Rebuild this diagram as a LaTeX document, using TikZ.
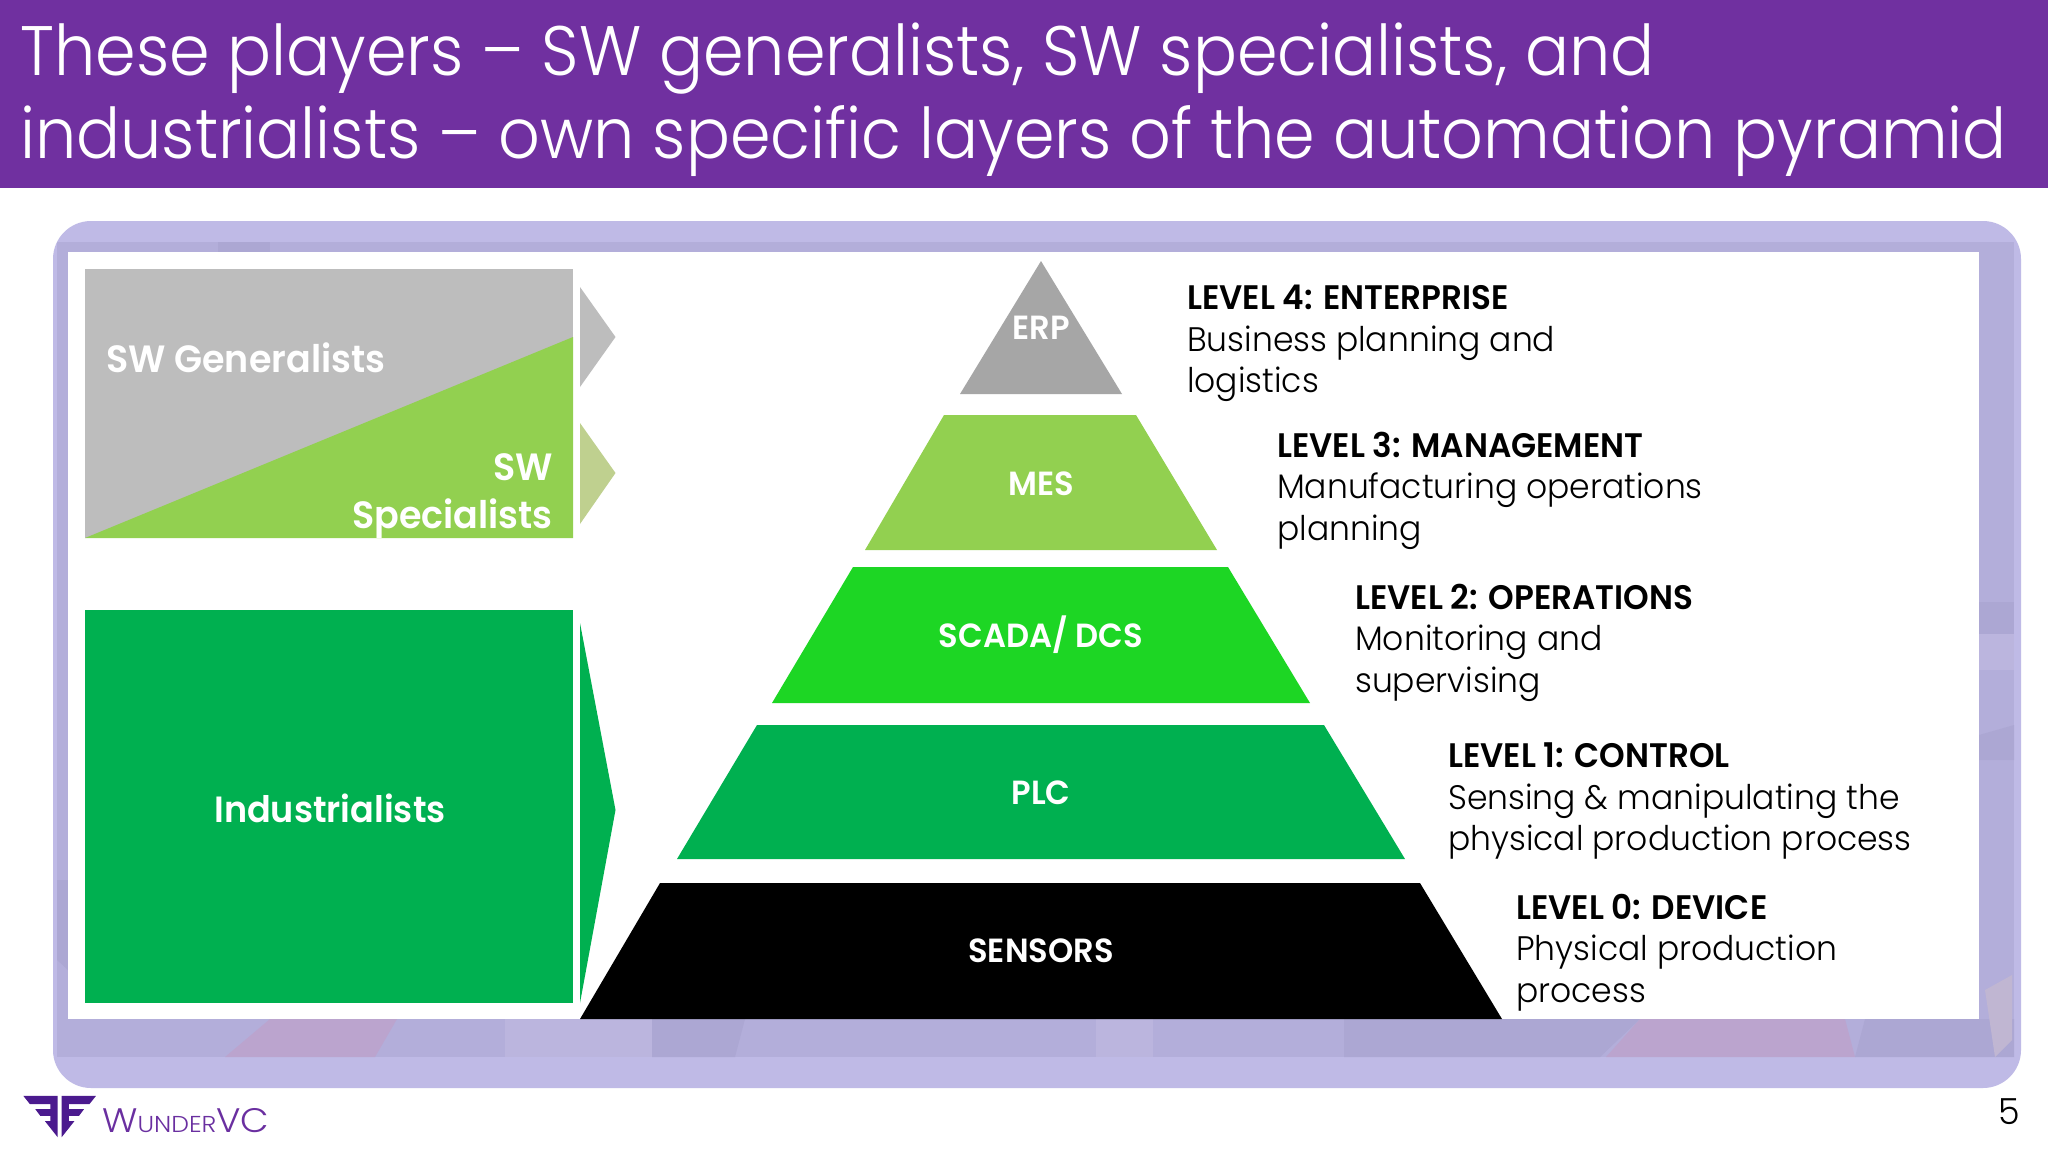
\documentclass[tikz,border=0pt]{standalone}
\usepackage{fontspec}
\setmainfont{Poppins Light}[BoldFont={Poppins SemiBold},UprightFeatures={FakeStretch=0.97},BoldFeatures={FakeStretch=0.96}]
\newfontfamily\titlefont{Poppins Light}[FakeStretch=0.932]
\newfontfamily\logofont{Poppins Light}[FakeStretch=1.09]
\definecolor{hdr}{HTML}{7030A0}
\definecolor{panel}{HTML}{BFBAE6}
\definecolor{strip}{HTML}{B3AEDA}
\definecolor{stripdark}{HTML}{ACA7D3}
\definecolor{striplight}{HTML}{BBB5DE}
\definecolor{strippink}{HTML}{BBA4CE}
\definecolor{stripbeige}{HTML}{C0B6D2}
\definecolor{swgray}{HTML}{BDBDBD}
\definecolor{erpgray}{HTML}{A6A6A6}
\definecolor{lime}{HTML}{92D050}
\definecolor{limepale}{HTML}{BFD08F}
\definecolor{bright}{HTML}{1DD624}
\definecolor{indgreen}{HTML}{00B050}
\definecolor{logopurple}{HTML}{4B1A8E}
\definecolor{logotext}{HTML}{6A2FA0}
\tikzset{
  layer/.style={fill=#1,draw=none},
  title/.style={anchor=base west,inner sep=0pt,text=white,font=\titlefont\fontsize{70}{80}\selectfont},
  pyr/.style={anchor=base,inner sep=0pt,text=white,font=\fontsize{33.5}{38}\selectfont\bfseries},
  side/.style={inner sep=0pt,text=white,font=\fontsize{38}{48}\selectfont\bfseries},
  desc/.style={anchor=north west,inner sep=0pt,align=left,text=black,font=\fontsize{34}{41.4}\selectfont},
}
\begin{document}
\begin{tikzpicture}[x=1pt,y=-1pt]
\useasboundingbox (0,0) rectangle (2048,1152);
\fill[white] (0,0) rectangle (2048,1152);
% header
\fill[hdr] (0,0) rectangle (2048,188);
\node[title] (t1) at (20,75) {These players – SW generalists, SW specialists, and};
\node[title] (t2) at (20,158) {industrialists – own specific layers of the automation pyramid};
% panel
\fill[panel,rounded corners=38pt] (53,221) rectangle (2021,1088);
\fill[strip] (57,242) rectangle (2014,1057);
% photo traces in the strip
\fill[strippink] (270,1019) -- (397,1019) -- (375,1057) -- (225,1057) -- cycle;
\fill[striplight] (505,1019) -- (652,1019) -- (652,1057) -- (505,1057) -- cycle;
\fill[stripdark] (652,1019) -- (745,1019) -- (735,1057) -- (652,1057) -- cycle;
\fill[striplight] (1096,1019) -- (1153,1019) -- (1153,1057) -- (1096,1057) -- cycle;
\fill[stripdark] (1344,1019) -- (1640,1019) -- (1600,1057) -- (1344,1057) -- cycle;
\fill[strippink] (1640,1019) -- (1845,1019) -- (1855,1057) -- (1606,1057) -- cycle;
\fill[stripdark] (1865,1019) -- (2014,1019) -- (2014,1057) -- (1855,1057) -- cycle;
\fill[stripbeige] (1985,990) -- (2012,975) -- (2012,1040) -- (1995,1057) -- cycle;
\fill[stripdark] (1979,602) -- (2014,602) -- (2014,634) -- (1979,634) -- cycle;
\fill[striplight] (1979,634) -- (2014,634) -- (2014,670) -- (1979,670) -- cycle;
\fill[stripdark] (1979,735) -- (2014,725) -- (2014,760) -- (1979,760) -- cycle;
\fill[stripdark] (57,880) -- (68,880) -- (68,970) -- (57,960) -- cycle;
\fill[stripdark] (218,242) -- (270,242) -- (270,252) -- (218,252) -- cycle;
% white card
\fill[white] (68,252) rectangle (1979,1019);
% left blocks
\fill[swgray] (85,269) rectangle (573,538);
\fill[lime] (85,538) -- (573,337) -- (573,538) -- cycle;
\fill[swgray] (580,287) -- (615.5,337) -- (580,387) -- cycle;
\fill[limepale] (580,423) -- (615.5,473) -- (580,524) -- cycle;
\fill[indgreen] (85,610) rectangle (573,1003);
\fill[indgreen] (580,623) -- (615.5,810) -- (580,1003) -- cycle;
\node[side,anchor=base west] (gen) at (106,372) {SW Generalists};
\node[side,anchor=north east,align=right] (spec) at (553,453) {SW\\Specialists};
\node[side,anchor=base,font=\fontsize{36.5}{48}\selectfont\bfseries] (ind) at (330,822) {Industrialists};
% pyramid
\fill[layer=erpgray] (1041,261) -- (1122,394) -- (960,394) -- cycle;
\fill[layer=lime] (944,415) -- (1136,415) -- (1217,550) -- (865,550) -- cycle;
\fill[layer=bright] (853,567) -- (1228,567) -- (1310,703) -- (772,703) -- cycle;
\fill[layer=indgreen] (757,725) -- (1324,725) -- (1405,859) -- (677,859) -- cycle;
\fill[layer=black] (660,883) -- (1420,883) -- (1502,1019) -- (580,1019) -- cycle;
\node[pyr] (erp) at (1041,339) {ERP};
\node[pyr] (mes) at (1041,495) {MES};
\node[pyr] (scada) at (1041,647) {SCADA/ DCS};
\node[pyr] (plc) at (1041,804) {PLC};
\node[pyr] (sens) at (1041,962) {SENSORS};
% descriptions
\node[desc] (l4) at (1187,285) {\textbf{LEVEL 4: ENTERPRISE}\\Business planning and\\logistics};
\node[desc] (l3) at (1277,432) {\textbf{LEVEL 3: MANAGEMENT}\\Manufacturing operations\\planning};
\node[desc] (l2) at (1355,584) {\textbf{LEVEL 2: OPERATIONS}\\Monitoring and\\supervising};
\node[desc] (l1) at (1448,743) {\textbf{LEVEL 1: CONTROL}\\Sensing \& manipulating the\\physical production process};
\node[desc] (l0) at (1516,894) {\textbf{LEVEL 0: DEVICE}\\Physical production\\process};
% logo
\begin{scope}[x=0.3333pt,y=-0.3333pt,shift={(45,3270)}]
\fill[logopurple] (25,18) -- (128,18) -- (128,142) -- (90,94) -- (106,94) -- (106,78) -- (76,78) -- (61,58) -- (106,58) -- (106,43) -- (45,43) -- cycle;
\fill[logopurple] (243,18) -- (140,18) -- (140,142) -- (178,94) -- (162,94) -- (162,78) -- (192,78) -- (207,58) -- (162,58) -- (162,43) -- (223,43) -- cycle;
\end{scope}
\node[anchor=base west,inner sep=0pt,text=logotext,font=\logofont] (brand) at (102,1132) {\fontsize{34}{34}\selectfont W\fontsize{23}{23}\selectfont UNDER\fontsize{34}{34}\selectfont VC};
\node[anchor=base,inner sep=0pt,text=black,font=\fontsize{36}{36}\selectfont] (pg) at (2009,1124) {5};
\end{tikzpicture}
\end{document}
